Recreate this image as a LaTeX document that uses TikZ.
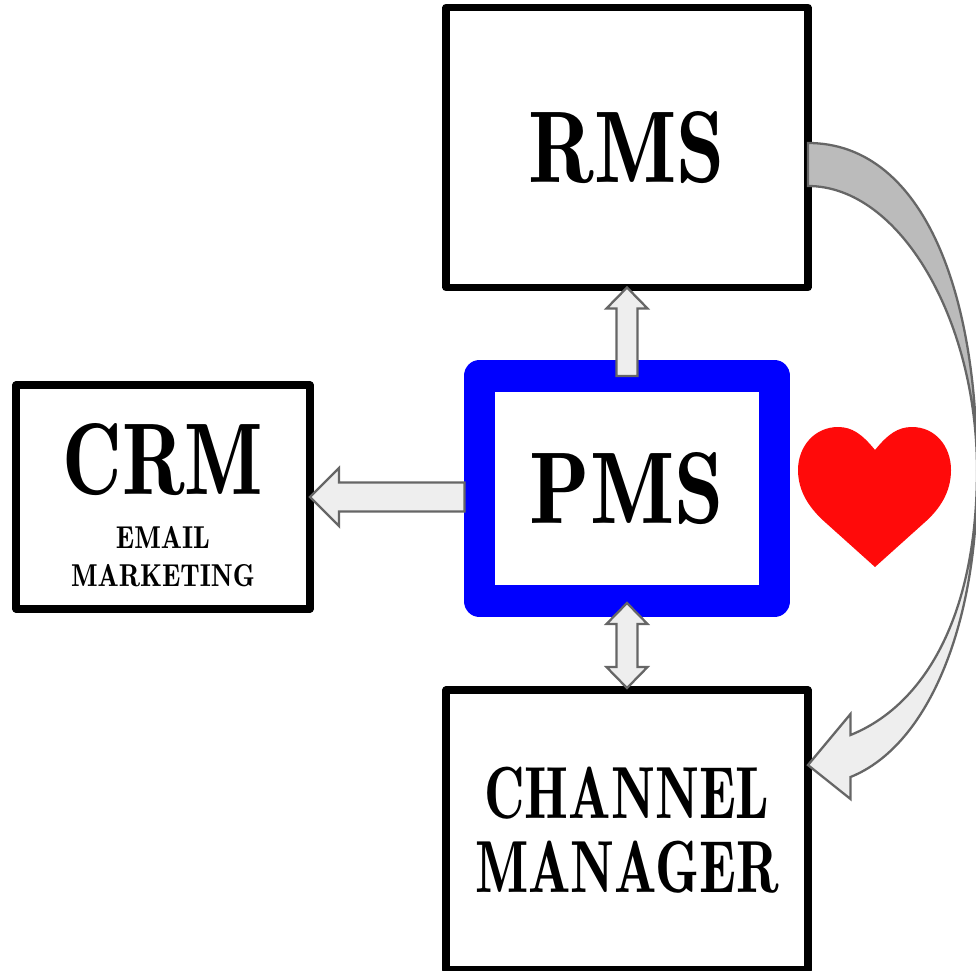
\documentclass[tikz,border=0pt]{standalone}
\usepackage{tikz}
\usepackage{xcolor}
\usepackage{graphicx}
\usetikzlibrary{calc}

\definecolor{arrowline}{HTML}{666666}
\definecolor{arrowlight}{HTML}{EEEEEE}
\definecolor{arrowdark}{HTML}{BBBBBB}
\definecolor{heartred}{HTML}{FF0A0A}
\definecolor{pmsblue}{HTML}{0000FF}

\tikzset{
    sysbox/.style={draw, line width=4.1pt, line join=round, inner sep=0pt, outer sep=0pt, align=center},
    pmsbox/.style={sysbox, draw=pmsblue, line width=18.1pt},
    bigfont/.style={font=\fontsize{58}{60}\fontseries{b}\selectfont},
    midfont/.style={font=\fontsize{42}{42.5}\fontseries{b}\selectfont},
    smallfont/.style={font=\fontsize{18}{21.5}\fontseries{b}\selectfont},
    blockline/.style={draw=arrowline, line width=1.3pt, fill=arrowlight, line join=miter}
}

\newcommand{\narrow}[2]{\scalebox{#1}[1]{#2}}

% shaft half width, head half width, head length, from, to
\newcommand{\blockarrow}[5]{
    \coordinate (h) at ($(#5)!#3!(#4)$);
    \draw[blockline] ($(#4)!#1!90:(#5)$) -- ($(h)!#1!-90:(#4)$) -- ($(h)!#2!-90:(#4)$) -- (#5)
        -- ($(h)!#2!90:(#4)$) -- ($(h)!#1!90:(#4)$) -- ($(#4)!#1!-90:(#5)$) -- cycle;
}
\newcommand{\doublearrow}[5]{
    \coordinate (h) at ($(#5)!#3!(#4)$);
    \coordinate (t) at ($(#4)!#3!(#5)$);
    \draw[blockline] (#4) -- ($(t)!#2!90:(#5)$) -- ($(t)!#1!90:(#5)$) -- ($(h)!#1!-90:(#4)$) -- ($(h)!#2!-90:(#4)$) -- (#5)
        -- ($(h)!#2!90:(#4)$) -- ($(h)!#1!90:(#4)$) -- ($(t)!#1!-90:(#5)$) -- ($(t)!#2!-90:(#5)$) -- cycle;
}

\begin{document}
\begin{tikzpicture}[x=0.02cm, y=-0.02cm]
    \useasboundingbox (0, 0) rectangle (976, 970);

    \node[sysbox, bigfont, minimum width=7.24cm, minimum height=5.6cm] (rms) at (627, 147.5) {\narrow{.85}{RMS}};
    \node[pmsbox, bigfont, minimum width=5.9cm, minimum height=4.5cm] (pms) at (627, 488.5) {\narrow{.87}{PMS}};
    \node[sysbox, midfont, minimum width=7.24cm, minimum height=5.6cm] (chan) at (627, 830) {\narrow{.76}{CHANNEL}\\\narrow{.76}{MANAGER}};
    \node[sysbox, minimum width=5.88cm, minimum height=4.48cm] (crm) at (163, 497) {};
    \node[bigfont] (crmtitle) at (163, 460) {\narrow{.81}{CRM}};
    \node[smallfont, align=center] (crmsub) at (163, 557) {\narrow{.885}{EMAIL}\\\narrow{.885}{MARKETING}};

    \coordinate (pmsleft) at (464.5, 497);
    \coordinate (pmstip) at ($(pms.south)+(0, 2)$);
    \coordinate (chantip) at ($(chan.north)+(0, -2)$);
    \blockarrow{.21cm}{.41cm}{.42cm}{pms.north}{rms.south}
    \blockarrow{.29cm}{.58cm}{.58cm}{pmsleft}{crm.east}
    \doublearrow{.21cm}{.41cm}{.42cm}{pmstip}{chantip}

    % curved arrow, grey part goes behind
    \coordinate (rmstop) at ($(rms.east)+(0, -4.5)$);
    \coordinate (rmsbot) at ($(rms.east)+(0, 38.5)$);
    \coordinate (chanin) at ($(chan.north east)+(0, 75)$);
    \draw[blockline, fill=arrowdark] (rmstop) .. controls (920, 143) and (977, 285) .. (977, 470)
        .. controls (977, 320) and (900, 186) .. (rmsbot) -- cycle;
    \draw[blockline] (chanin) -- (850.5, 714) -- (850.5, 735)
        .. controls (925, 705) and (977, 615) .. (977, 470)
        .. controls (979, 620) and (930, 745) .. (850.5, 777) -- (850.5, 799) -- cycle;

    \fill[heartred] (875, 450) .. controls (862, 434) and (852, 427) .. (838, 427)
        .. controls (815, 427) and (798, 446) .. (798, 470)
        .. controls (798, 492) and (810, 509) .. (826, 523) -- (875, 567) -- (924, 523)
        .. controls (940, 509) and (951, 492) .. (951, 470)
        .. controls (951, 446) and (935, 427) .. (912, 427)
        .. controls (898, 427) and (888, 434) .. (875, 450) -- cycle;
\end{tikzpicture}
\end{document}
